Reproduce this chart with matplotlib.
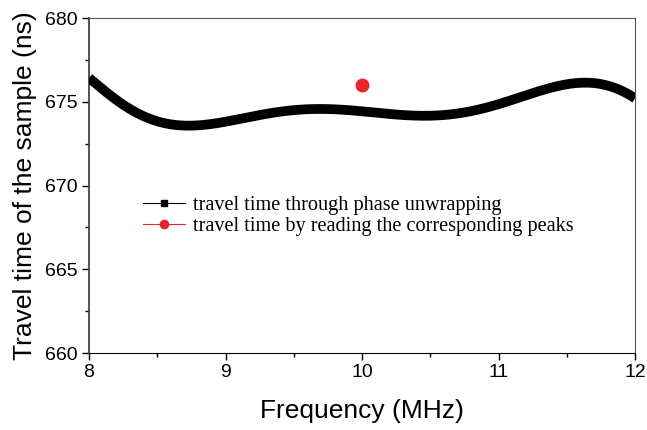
import matplotlib
matplotlib.use("Agg")
import matplotlib.pyplot as plt
from matplotlib.ticker import MultipleLocator
import numpy as np

# travel time obtained through phase unwrapping
freq_mhz = [8.00, 8.18, 8.42, 8.67, 8.91, 9.16, 9.40, 9.64, 9.89, 10.02,
            10.27, 10.51, 10.75, 10.99, 11.23, 11.47, 11.67, 11.84, 12.00]
travel_ns = [676.4, 675.3, 674.0, 673.6, 673.7, 674.1, 674.4, 674.55, 674.5,
             674.4, 674.25, 674.2, 674.35, 674.8, 675.5, 676.0, 676.1, 675.9,
             675.2]

# travel time by reading the corresponding peaks
peak_freq = [10.0]
peak_time = [676.0]

x_ticks = [8, 9, 10, 11, 12]
y_ticks = [660, 665, 670, 675, 680]

# smooth the read points with a polynomial fit for drawing
fine_x = np.linspace(freq_mhz[0], freq_mhz[-1], 400)
coef = np.polyfit(freq_mhz, travel_ns, 7)
fine_y = np.polyval(coef, fine_x)

fig = plt.figure(figsize=(6.47, 4.30), dpi=100)
ax = fig.add_axes([0.1376, 0.179, 0.8439, 0.779])

ax.plot(fine_x, fine_y, color="black", linewidth=7, solid_capstyle="butt",
        zorder=3)
ax.plot(peak_freq, peak_time, "o", color="#e8262b", markersize=9, zorder=4)

# legend proxies
h1, = ax.plot([], [], color="black", linewidth=0.8, marker="s",
              markersize=5)
h2, = ax.plot([], [], color="#e8262b", linewidth=0.8, marker="o",
              markersize=6)
ax.legend([h1, h2],
          ["travel time through phase unwrapping",
           "travel time by reading the corresponding peaks"],
          loc="center left", bbox_to_anchor=(0.065, 0.409), frameon=False,
          prop={"family": "Liberation Serif", "size": 14.6},
          handlelength=2.1, handletextpad=0.4, labelspacing=0.1)

ax.set_xlim(8, 12)
ax.set_ylim(660, 680)
ax.set_xticks(x_ticks)
ax.set_yticks(y_ticks)
ax.xaxis.set_minor_locator(MultipleLocator(0.5))
ax.yaxis.set_minor_locator(MultipleLocator(2.5))
ax.tick_params(which="major", direction="out", length=5, width=1,
               labelsize=14, pad=3)
ax.tick_params(which="minor", direction="out", length=3, width=1)
ax.tick_params(top=False, right=False)
for lbl in ax.get_xticklabels() + ax.get_yticklabels():
    lbl.set_family("Liberation Sans")

for side in ["top", "right"]:
    ax.spines[side].set_color("#555555")
ax.spines["left"].set_color("#444444")
ax.spines["left"].set_linewidth(1.3)

ax.set_xlabel("Frequency (MHz)", family="Liberation Sans", fontsize=19,
              labelpad=13)
ax.set_ylabel("Travel time of the sample (ns)", family="Liberation Sans",
              fontsize=19, labelpad=6)

fig.savefig("out.png", dpi=100)
